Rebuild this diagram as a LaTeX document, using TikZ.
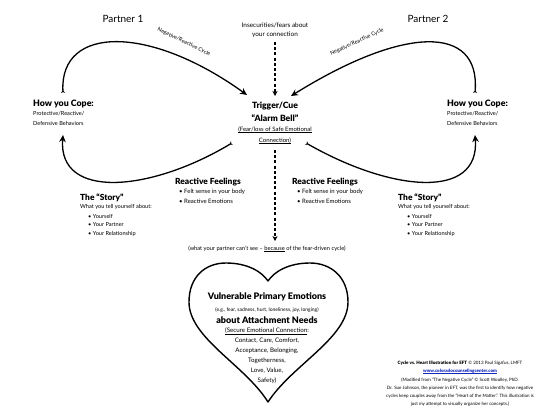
\documentclass[tikz,border=0pt]{standalone}
\usepackage{fontspec}
\setmainfont{Lato}
\newfontfamily\heavy{Lato Black}[Ligatures=TeX]
\usetikzlibrary{arrows.meta}
\newcommand{\myul}[1]{\setbox0\hbox{#1}\rlap{\raisebox{-0.9pt}{\rule{\wd0}{0.32pt}}}\box0\relax}
\definecolor{urlblue}{RGB}{20,40,190}
\tikzset{
  hd/.style={inner sep=0pt, anchor=west, font=\fontsize{8.4}{10}\selectfont\heavy},
  bd/.style={inner sep=0pt, anchor=west, font=\fontsize{5.6}{7}\selectfont},
  bl/.style={inner sep=0pt, anchor=west, font=\fontsize{6}{7}\selectfont},
  ctr/.style={inner sep=0pt, anchor=center},
  cycle line/.style={line width=1.3pt,
     arrows={Stealth[reversed,length=3pt,width=4pt]-Stealth[length=7pt,width=6.5pt,inset=2.2pt]}},
  dash arrow/.style={line width=1.2pt, dash pattern=on 3pt off 2.2pt,
     -{Stealth[length=5pt,width=5pt,inset=1.5pt]}},
  cyclbl/.style={inner sep=0pt, font=\fontsize{5.4}{6}\selectfont},
  cred/.style={inner sep=0pt, anchor=center, font=\fontsize{4.5}{5}\selectfont},
}
\begin{document}
\begin{tikzpicture}[x=1pt,y=-1pt]
\useasboundingbox (0,0) rectangle (550,413);
% partners
\node[ctr, font=\fontsize{10}{12}\selectfont] (p1) at (123,19) {Partner 1};
\node[ctr, font=\fontsize{10}{12}\selectfont] (p2) at (428,19) {Partner 2};
% insecurities
\node[ctr, font=\fontsize{6.4}{8}\selectfont] (ins1) at (275,25) {Insecurities/fears about};
\node[ctr, font=\fontsize{6.4}{8}\selectfont] (ins2) at (275,35) {your connection};
% trigger
\node[ctr, font=\fontsize{8.6}{10}\selectfont\heavy] (trig1) at (275,106) {Trigger/Cue};
\node[ctr, font=\fontsize{8.6}{10}\selectfont\heavy] (trig2) at (275,118) {“Alarm Bell”};
\node[ctr, font=\fontsize{6}{7}\selectfont] (trig3) at (275,130) {\myul{(Fear/loss of Safe Emotional}};
\node[ctr, font=\fontsize{6}{7}\selectfont] (trig4) at (275,141) {\myul{Connection)}};
% dashed arrows
\coordinate (d1s) at (275,42);
\coordinate (d1e) at (275,96);
\coordinate (d2s) at (275,150);
\coordinate (d2e) at (275,241);
\draw[dash arrow] (d1s) -- (d1e);
\draw[dash arrow] (d2s) -- (d2e);
\node[ctr, font=\fontsize{5.7}{7}\selectfont] (see) at (267,249) {(what your partner can’t see – \myul{because} of the fear-driven cycle)};
% left cope
\node[hd, font=\fontsize{8.8}{10}\selectfont\heavy] (lcope) at (33,104) {How you Cope:};
\node[bd] (lcope1) at (33,114) {Protective/Reactive/};
\node[bd] (lcope2) at (33,123) {Defensive Behaviors};
% right cope
\node[hd, font=\fontsize{8.8}{10}\selectfont\heavy] (rcope) at (447,104) {How you Cope:};
\node[bd] (rcope1) at (447,114) {Protective/Reactive/};
\node[bd] (rcope2) at (447,123) {Defensive Behaviors};
% left story
\node[hd] (lstory) at (80,198) {The “Story”};
\node[bd] (lstory1) at (80,207) {What you tell yourself about:};
\node[bd] (lstory2) at (88,216) {\textbullet\ Yourself};
\node[bd] (lstory3) at (88,225) {\textbullet\ Your Partner};
\node[bd] (lstory4) at (88,234) {\textbullet\ Your Relationship};
% right story
\node[hd] (rstory) at (398,198) {The “Story”};
\node[bd] (rstory1) at (398,207) {What you tell yourself about:};
\node[bd] (rstory2) at (407,216) {\textbullet\ Yourself};
\node[bd] (rstory3) at (407,225) {\textbullet\ Your Partner};
\node[bd] (rstory4) at (407,234) {\textbullet\ Your Relationship};
% reactive feelings
\node[hd] (lreact) at (175,182) {Reactive Feelings};
\node[bl] (lreact1) at (179,192) {\textbullet\ Felt sense in your body};
\node[bl] (lreact2) at (179,201) {\textbullet\ Reactive Emotions};
\node[hd] (rreact) at (292,182) {Reactive Feelings};
\node[bl] (rreact1) at (297,192) {\textbullet\ Felt sense in your body};
\node[bl] (rreact2) at (297,201) {\textbullet\ Reactive Emotions};
% cycle curves
\coordinate (lct) at (63,93);
\coordinate (lcb) at (63,135);
\coordinate (rct) at (475,93);
\coordinate (rcb) at (475,135);
\coordinate (tl) at (247,95);
\coordinate (tr) at (291,96);
\coordinate (tbl) at (232,143);
\coordinate (tbr) at (306,143);
\draw[cycle line] (lct) .. controls (60,25) and (150,25) .. (tl);
\draw[cycle line] (rct) .. controls (480,25) and (405,25) .. (tr);
\draw[cycle line] (tbl) .. controls (150,192) and (58,200) .. (lcb);
\draw[cycle line] (tbr) .. controls (392,192) and (480,200) .. (rcb);
\node[cyclbl, rotate=-26] (lneg) at (184,42) {Negative/Reactive Cycle};
\node[cyclbl, rotate=25] (rneg) at (357,42) {Negative/Reactive Cycle};
% heart
\draw[line width=1.4pt, line join=round] (268,402) .. controls (245,365) and (189,338) .. (189,302)
  .. controls (189,277) and (205,263) .. (226,263)
  .. controls (248,263) and (262,272) .. (268,281)
  .. controls (274,272) and (288,263) .. (310,263)
  .. controls (331,263) and (348,277) .. (348,302)
  .. controls (348,338) and (292,365) .. (268,402) -- cycle;
\node[ctr, font=\fontsize{9}{11}\selectfont\heavy] (vul) at (267,297) {Vulnerable Primary Emotions};
\node[ctr, font=\fontsize{5}{6}\selectfont] (eg) at (267,310) {(e.g., fear, sadness, hurt, loneliness, joy, longing)};
\node[ctr, font=\fontsize{9}{11}\selectfont\heavy] (about) at (267,320) {about Attachment Needs};
\node[ctr, font=\fontsize{6.2}{7}\selectfont] (h1) at (267,331) {\myul{(Secure Emotional Connection}:};
\node[ctr, font=\fontsize{6.2}{7}\selectfont] (h2) at (267,341) {Contact, Care, Comfort,};
\node[ctr, font=\fontsize{6.2}{7}\selectfont] (h3) at (267,351) {Acceptance, Belonging,};
\node[ctr, font=\fontsize{6.2}{7}\selectfont] (h4) at (267,361) {Togetherness,};
\node[ctr, font=\fontsize{6.2}{7}\selectfont] (h5) at (267,371) {Love, Value,};
\node[ctr, font=\fontsize{6.2}{7}\selectfont] (h6) at (267,381) {Safety)};
% credits
\node[cred] (c1) at (460,363) {{\heavy Cycle vs. Heart Illustration for EFT} © 2013 Paul Sigafus, LMFT};
\node[cred, text=urlblue] (c2) at (460,371) {\heavy\myul{www.coloradocounselingcenter.com}};
\node[cred] (c3) at (460,380) {(Modified from “The Negative Cycle” © Scott Woolley, PhD.};
\node[cred] (c4) at (460,388) {Dr. Sue Johnson, the pioneer in EFT, was the first to identify how negative};
\node[cred] (c5) at (460,396) {cycles keep couples away from the “Heart of the Matter.” This illustration is};
\node[cred] (c6) at (460,404) {just my attempt to visually organize her concepts.)};
\end{tikzpicture}
\end{document}
